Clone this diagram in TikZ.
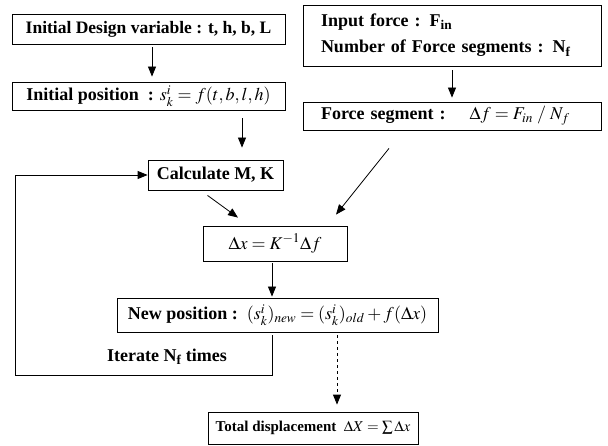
\documentclass[tikz,border=0pt]{standalone}
\usepackage{mathptmx}
\usepackage{fontspec}
\setmainfont{Liberation Serif}
\usetikzlibrary{arrows.meta}
\begin{document}
\begin{tikzpicture}[x=1pt, y=-1pt, line width=0.8pt, >={Triangle[length=10pt,width=8pt]},
		box/.style={draw, rectangle, inner sep=0pt, font=\fontsize{18}{21}\selectfont\bfseries},
		arr/.style={->}]
	\useasboundingbox (0,0) rectangle (608,446);
	% --- linke Spalte: Anfangswerte ---
	\node[box, minimum width=273pt, minimum height=30pt, font=\fontsize{17.5}{21}\selectfont\bfseries] (design) at (148.5,29)
		{Initial Design variable : t, h, b, L};
	\node[box, minimum width=273pt, minimum height=28pt] (pos) at (148.5,96) {Initial position\ \ : $s_k^i = f(t,b,l,h)$};
	\node[box, minimum width=135pt, minimum height=30pt] (calc) at (215.5,175) {Calculate M, K};
	
	% --- rechte Spalte: Kraft ---
	\node[box, minimum width=298pt, minimum height=61pt, text width=262pt, align=left] (input) at (452,35.5)
		{Input force : F\textsubscript{in}\\[5pt]Number of Force segments : N\textsubscript{f}};
	\node[box, minimum width=298pt, minimum height=28pt, text width=262pt, align=left] (force) at (452,116)
		{Force segment :\quad\ $\Delta f = F_{in}\;/\;N_f$};
	
	% --- Iteration ---
	\node[box, minimum width=144pt, minimum height=35pt] (delta) at (275,243.5) {$\Delta x = K^{-1}\Delta f$};
	\node[box, minimum width=321pt, minimum height=34pt] (new) at (277.5,315)
		{New position :\ \ $(s_k^i)_{new} = (s_k^i)_{old} + f(\Delta x)$};
	\node[box, minimum width=210pt, minimum height=32pt, font=\fontsize{15}{18}\selectfont\bfseries] (total) at (313,428)
		{Total displacement\ \ $\Delta X = \sum \Delta x$};
	\node[font=\fontsize{18}{21}\selectfont\bfseries] (iter) at (167,357) {Iterate N\textsubscript{f} times};
	
	\coordinate (c2) at (242,0);
	\coordinate (c3) at (272,0);
	\coordinate (c4) at (337,0);
	\coordinate (corner) at (15,375);
	
	% --- Pfeile ---
	\draw[arr, shorten <=3pt, shorten >=5pt] ([xshift=3.5pt]design.south) -- ([xshift=3.5pt]pos.north);
	\draw[arr, shorten <=8pt, shorten >=12pt] (pos.south -| c2) -- (calc.north -| c2);
	\draw[arr, shorten <=4pt, shorten >=4pt] (input.south) -- (force.north);
	\draw[arr] ([xshift=-8pt,yshift=-5pt]calc.south) -- ([xshift=-37pt,yshift=8pt]delta.north);
	\draw[arr] ([xshift=-63pt,yshift=-18pt]force.south) -- ([xshift=61pt,yshift=11pt]delta.north);
	\draw[arr, shorten <=2pt, shorten >=1pt] (delta.south -| c3) -- (new.north -| c3);
	\draw[arr, dashed, shorten <=3pt, shorten >=7pt] (new.south -| c4) -- (total.north -| c4);
	\draw[arr] ([yshift=-3pt]new.south -| c3) |- (corner) |- (calc.west);
\end{tikzpicture}
\end{document}
